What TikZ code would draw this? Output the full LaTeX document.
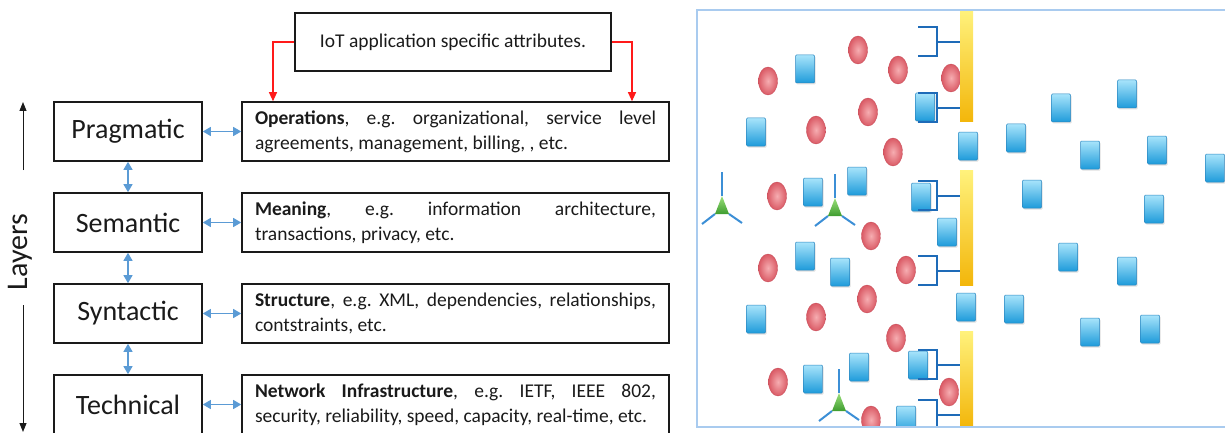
\documentclass[tikz,border=0pt]{standalone}
\usepackage{fontspec}
\setmainfont{Carlito}
\usepackage{tikz}
\usetikzlibrary{arrows.meta,positioning,calc,shapes.geometric,shadows}
\frenchspacing
\definecolor{layerInk}{HTML}{1A1A1A}
\definecolor{linkBlue}{HTML}{5B9BD5}
\definecolor{attrRed}{HTML}{FF1A1A}
\definecolor{frameBlue}{HTML}{A9CBEF}
\definecolor{cubeTop}{HTML}{A8E4FB}
\definecolor{cubeBot}{HTML}{1E9BDA}
\definecolor{cubeEdge}{HTML}{2A86C0}
\definecolor{ballHi}{HTML}{F6ADB1}
\definecolor{ballRed}{HTML}{DA5A65}
\definecolor{ballEdge}{HTML}{C9505C}
\definecolor{barTop}{HTML}{FFF27C}
\definecolor{barBot}{HTML}{F3B60A}
\definecolor{clampBlue}{HTML}{1E6BB8}
\definecolor{legBlue}{HTML}{3C8FD6}
\definecolor{recTop}{HTML}{9BE07A}
\definecolor{recBot}{HTML}{3E9C2F}
\tikzset{
  layerbox/.style={draw=layerInk, line width=1.6pt, minimum width=148pt, minimum height=59pt,
                   inner sep=0pt, font=\fontsize{28}{32}\selectfont, text=layerInk},
  descbox/.style={draw=layerInk, line width=1.6pt, text width=401pt, minimum height=59pt,
                  inner xsep=13pt, inner ysep=3pt, align=justify,
                  font=\fontsize{19.5}{25}\selectfont, text=layerInk},
  attrbox/.style={draw=layerInk, line width=1.6pt, minimum width=316pt, minimum height=58pt,
                  inner sep=0pt, font=\fontsize{19.5}{25}\selectfont, text=layerInk},
  linkarr/.style={{Triangle[length=8pt,width=9pt]}-{Triangle[length=8pt,width=9pt]},
                  line width=1.2pt, draw=linkBlue},
  attrarr/.style={-{Triangle[length=9pt,width=8pt]}, line width=1.1pt, draw=attrRed},
  axisarr/.style={-{Triangle[length=9pt,width=7pt]}, line width=1pt, draw=layerInk},
  cube/.style={rectangle, rounded corners=1pt, minimum width=19pt, minimum height=28pt,
               inner sep=0pt, top color=cubeTop, bottom color=cubeBot, draw=cubeEdge,
               line width=0.5pt, drop shadow={opacity=0.25, shadow xshift=1pt, shadow yshift=-1.5pt}},
  ball/.style={ellipse, minimum width=19pt, minimum height=28pt, inner sep=0pt,
               inner color=ballHi, outer color=ballRed, draw=ballEdge, line width=0.4pt},
  clamp/.style={draw=clampBlue, line width=2.2pt},
  leg/.style={draw=legBlue, line width=2pt},
}
\begin{document}
\begin{tikzpicture}[x=1pt, y=-1pt]
  \useasboundingbox (0,0) rectangle (1225,433);
  % interoperability layers
  \node[layerbox] (prag) at (128,131.5) {Pragmatic};
  \node[layerbox] (sem) at (128,222.5) {Semantic};
  \node[layerbox] (syn) at (128,313.5) {Syntactic};
  \node[layerbox] (tech) at (128,404.5) {Technical};
  \node[descbox] (ops) at (455.5,131.5) {\textbf{Operations}, e.g. organizational, service level\linebreak agreements, management, billing, , etc.};
  \node[descbox] (mean) at (455.5,222.5) {\textbf{Meaning}, e.g. information architecture,\linebreak transactions, privacy, etc.};
  \node[descbox] (struc) at (455.5,313.5) {\textbf{Structure}, e.g. XML, dependencies, relationships,\linebreak contstraints, etc.};
  \node[descbox] (netw) at (455.5,404.5) {\textbf{Network Infrastructure}, e.g. IETF, IEEE 802,\linebreak security, reliability, speed, capacity, real-time, etc.};
  \node[attrbox] (iot) at (453,42) {IoT application specific attributes.};
  \draw[linkarr] (prag) -- (ops);
  \draw[linkarr] (sem) -- (mean);
  \draw[linkarr] (syn) -- (struc);
  \draw[linkarr] (tech) -- (netw);
  \draw[linkarr] (prag) -- (sem);
  \draw[linkarr] (sem) -- (syn);
  \draw[linkarr] (syn) -- (tech);
  \coordinate (attrL) at (273,0);
  \coordinate (attrR) at (632,0);
  \draw[attrarr] (iot.west) -| (attrL |- ops.north);
  \draw[attrarr] (iot.east) -| (attrR |- ops.north);
  % layers axis
  \coordinate (upFrom) at (23,170);
  \coordinate (upTo) at (23,102);
  \coordinate (dnFrom) at (23,305);
  \coordinate (dnTo) at (23,432);
  \draw[axisarr] (upFrom) -- (upTo);
  \draw[axisarr] (dnFrom) -- (dnTo);
  \node[rotate=90, font=\fontsize{30}{34}\selectfont, text=layerInk] (layers) at (20,252) {Layers};
  % membrane scene
  \begin{scope}
    \clip (697,10) rectangle (1225,427);
    \foreach \x/\y [count=\i] in {805/69,756/132,925/107,968/146,1016/138,1061/108,1127/94,
        1090/155,1157/150,1215/168,1032/194,1154/209,857/181,813/192,921/197,947/232,
        805/256,840/272,1068/257,1127/271,966/307,1014/309,1090/332,1150/329,756/319,
        859/367,918/365,813/379,906/420}
      \node[cube] (cube\i) at (\x,\y) {};
    \foreach \x/\y [count=\i] in {768/81,858/50,898/70,951/78,868/112,816/130,893/152,
        777/196,871/236,768/268,906/270,867/299,816/317,896/338,778/382,949/392,871/420}
      \node[ball] (ball\i) at (\x,\y) {};
    \foreach \ya/\yb in {10/122,170/285,331/427}
      \shade[top color=barTop, bottom color=barBot] (960,\ya) rectangle (973,\yb);
    \foreach \m in {42,108,196,271,365,415} {
      \draw[clamp] (918,\m-15) -| (937,\m+14) -- (918,\m+14);
      \draw[clamp] (937,\m) -- (960,\m);
    }
    \foreach \cx/\ay in {722/196,835/198,839/393} {
      \draw[leg] (\cx,\ay-24) -- (\cx,\ay);
      \draw[leg] (\cx-20,\ay+28) -- (\cx-7,\ay+18);
      \draw[leg] (\cx+20,\ay+27) -- (\cx+7,\ay+18);
      \shade[top color=recTop, bottom color=recBot] (\cx,\ay) -- (\cx-7,\ay+18) -- (\cx+7,\ay+18) -- cycle;
    }
  \end{scope}
  \draw[frameBlue, line width=1.5pt] (697,10) rectangle (1232,427);
\end{tikzpicture}
\end{document}
